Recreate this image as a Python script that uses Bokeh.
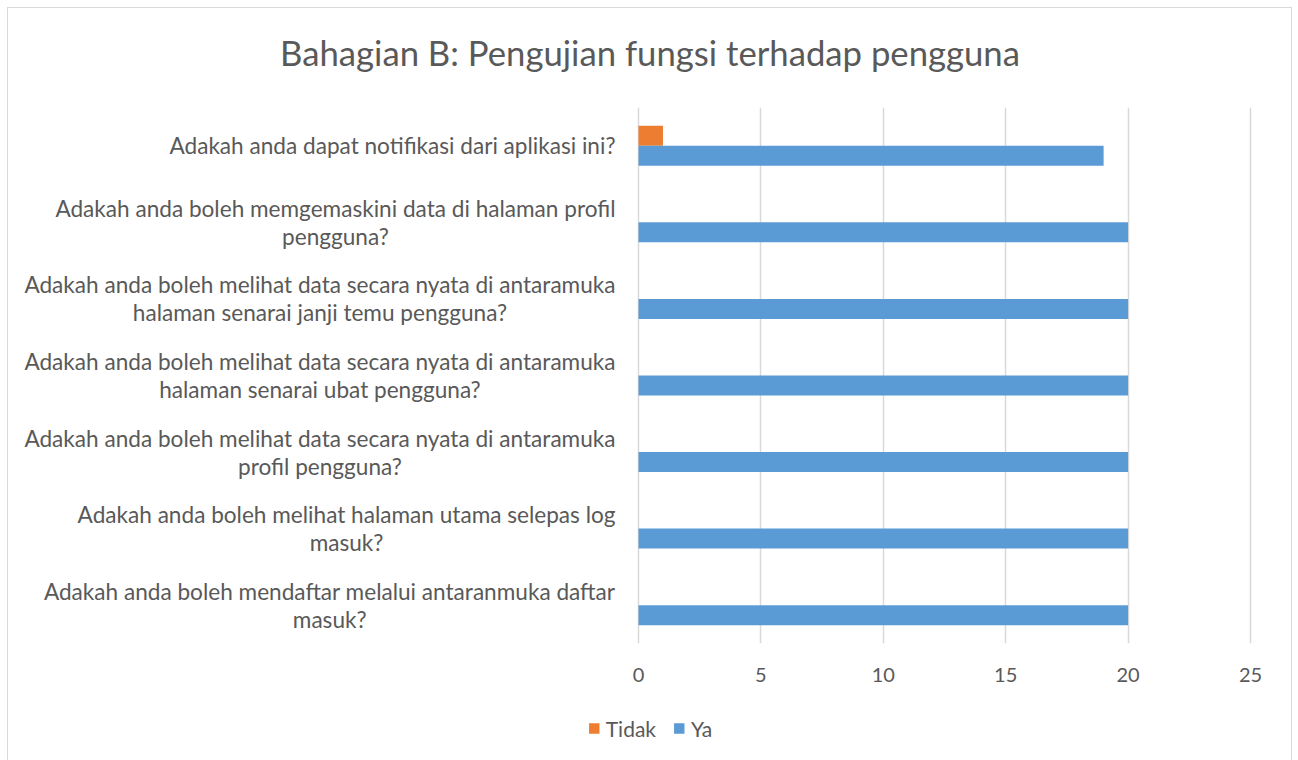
from bokeh.plotting import figure
from bokeh.layouts import column
from bokeh.models import (ColumnDataSource, FactorRange, Range1d, Legend, LegendItem,
                          FixedTicker, Label)
from bokeh.core.properties import value
from bokeh.transform import dodge
from bokeh.embed import file_html
from bokeh.resources import INLINE

# Categories listed bottom to top
categories = [
    "Adakah anda boleh mendaftar melalui antaranmuka daftar\nmasuk?",
    "Adakah anda boleh melihat halaman utama selepas log\nmasuk?",
    "Adakah anda boleh melihat data secara nyata di antaramuka\nprofil pengguna?",
    "Adakah anda boleh melihat data secara nyata di antaramuka\nhalaman senarai ubat pengguna?",
    "Adakah anda boleh melihat data secara nyata di antaramuka\nhalaman senarai janji temu pengguna?",
    "Adakah anda boleh memgemaskini data di halaman profil\npengguna?",
    "Adakah anda dapat notifikasi dari aplikasi ini?",
]
tidak = [0, 0, 0, 0, 0, 0, 1]
ya = [20, 20, 20, 20, 20, 20, 19]
x_ticks = [0, 5, 10, 15, 20, 25]
series_names = ["Tidak", "Ya"]
series_colors = ["#ED7D31", "#5B9BD5"]
title_text = "Bahagian B: Pengujian fungsi terhadap pengguna"

FONT = "Lato"
TXT = "#595959"
W = 1283


def bare(fig):
    fig.axis.visible = False
    fig.grid.grid_line_color = None
    fig.outline_line_color = None
    fig.background_fill_color = "white"
    fig.border_fill_color = "white"


# ---- title strip ----
pt = figure(width=W, height=99, x_range=Range1d(0, 1), y_range=Range1d(0, 1),
            output_backend="svg", toolbar_location=None,
            min_border_left=0, min_border_right=0, min_border_top=0, min_border_bottom=0)
bare(pt)
pt.add_layout(Label(x=0.5, y=0.556, text=title_text, text_font=FONT, text_font_size="34.7px",
                    text_color=TXT, text_align="center", text_baseline="middle"))

# ---- main chart ----
source = ColumnDataSource(dict(cat=categories, tidak=tidak, ya=ya, zero=[0] * len(categories)))

# frame spans the full width; value 0 sits 630px from the left, 25 sits 1242px from the left
p = figure(
    width=W, height=588, frame_width=W, frame_height=536,
    y_range=FactorRange(factors=categories, range_padding=0),
    x_range=Range1d(-25.735, 26.675),
    output_backend="svg", toolbar_location=None,
    min_border_left=0, min_border_right=0, min_border_top=0, min_border_bottom=52,
)
p.outline_line_color = None
p.background_fill_color = "white"
p.border_fill_color = "white"

p.hbar(y=dodge("cat", 0.13, range=p.y_range), left=0, right="tidak", height=0.261,
       source=source, color=series_colors[0], line_color=None)
p.hbar(y=dodge("cat", -0.13, range=p.y_range), left=0, right="ya", height=0.261,
       source=source, color=series_colors[1], line_color=None)

# category labels: right-anchored block, lines centred within it
p.text(x="zero", y="cat", text="cat", source=source, x_offset=-23,
       anchor="center_right", text_align="center", text_baseline="middle",
       text_font=value(FONT), text_font_size="22.6px", text_color=TXT,
       text_line_height=1.04)

p.yaxis.visible = False
p.xaxis.ticker = FixedTicker(ticks=x_ticks)
p.xgrid.ticker = FixedTicker(ticks=x_ticks)
p.xgrid.grid_line_color = "#D9D9D9"
p.xgrid.grid_line_width = 1.5
p.ygrid.grid_line_color = None

ax = p.xaxis[0]
ax.axis_line_color = None
ax.major_tick_line_color = None
ax.minor_tick_line_color = None
ax.major_tick_out = 0
ax.major_tick_in = 0
ax.major_label_text_font = FONT
ax.major_label_text_color = TXT
ax.major_label_text_font_size = "20px"
ax.major_label_standoff = 24

# ---- legend strip ----
pl = figure(width=W, height=65, x_range=Range1d(0, 1), y_range=Range1d(0, 1),
            output_backend="svg", toolbar_location=None,
            min_border_left=0, min_border_right=0, min_border_top=0, min_border_bottom=0)
bare(pl)
# zero-size stand-in glyphs that only supply the legend swatch colours
swatches = [pl.hbar(y=[0], left=[0], right=[0], height=0, color=c, line_color=None)
            for c in series_colors]
legend = Legend(items=[LegendItem(label=n, renderers=[r]) for n, r in zip(series_names, swatches)],
                orientation="horizontal", location="center",
                padding=0, margin=0, spacing=16, label_standoff=6,
                glyph_width=13, glyph_height=13, label_height=20,
                border_line_color=None, background_fill_alpha=0,
                label_text_font=FONT, label_text_color=TXT, label_text_font_size="21px")
pl.add_layout(legend, "center")

layout = column(pt, p, pl, spacing=0,
                styles={"margin": "7px 0 0 7px", "border": "1px solid #D9D9D9",
                        "border-bottom": "none"})

open("out.html", "w").write(file_html(layout, INLINE))
